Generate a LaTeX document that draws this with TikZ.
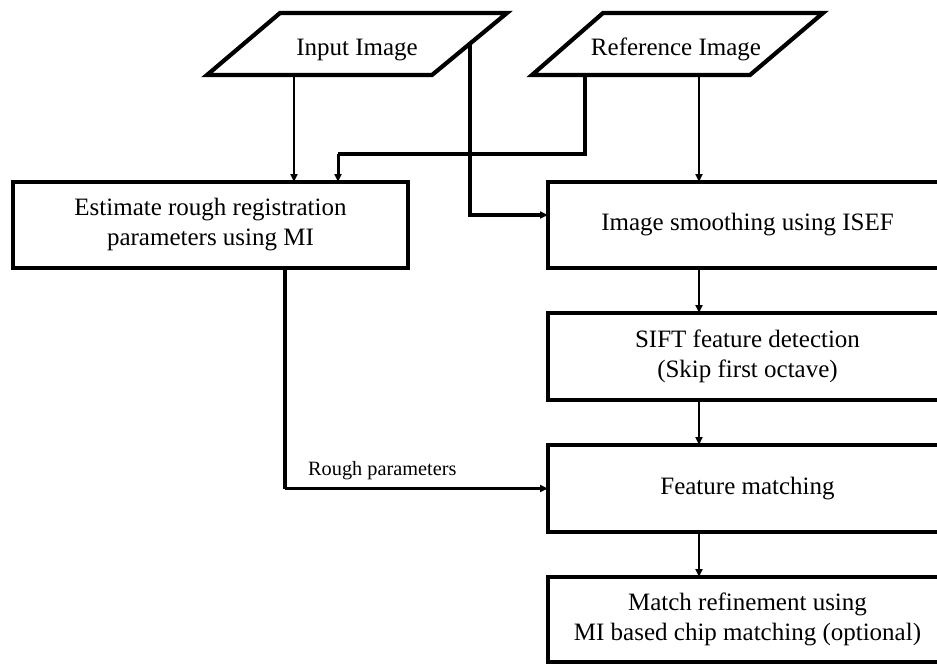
\documentclass[tikz,border=0pt]{standalone}
\usepackage{fontspec}
\setmainfont{Liberation Serif}
\usetikzlibrary{arrows.meta}
\begin{document}
\begin{tikzpicture}[x=1pt,y=-1pt,
  procbox/.style={draw,line width=4.2pt,rectangle,align=center,inner sep=0pt,outer sep=0pt,
    font=\fontsize{25}{30}\selectfont},
  iolabel/.style={font=\fontsize{25}{30}\selectfont,inner sep=0pt,anchor=base},
  iobox/.style={line width=4.2pt,line join=miter},
  flow/.style={line width=2.5pt,-{Triangle[length=8pt,width=7pt]}},
  heavyflow/.style={line width=3.8pt,-{Triangle[length=8pt,width=7pt]}},
  plainline/.style={line width=3.2pt}]
\useasboundingbox (0,0) rectangle (937,664);

% input parallelograms
\coordinate (inTL) at (280,13);  \coordinate (inTR) at (507,13);
\coordinate (inBR) at (432,75);  \coordinate (inBL) at (207,75);
\draw[iobox] (inTL) -- (inTR) -- (inBR) -- (inBL) -- cycle;
\node[iolabel] (input) at (357,55) {Input Image};

\coordinate (refTL) at (603,13); \coordinate (refTR) at (823,13);
\coordinate (refBR) at (750,75); \coordinate (refBL) at (532,75);
\draw[iobox] (refTL) -- (refTR) -- (refBR) -- (refBL) -- cycle;
\node[iolabel] (reference) at (676,55) {Reference Image};

% processing boxes
\node[procbox,minimum width=395pt,minimum height=86pt] (estimate) at (210.5,225)
  {Estimate rough registration\\parameters using MI};
\node[procbox,minimum width=399pt,minimum height=86pt] (smooth) at (747.5,225)
  {Image smoothing using ISEF};
\node[procbox,minimum width=399pt,minimum height=87pt] (sift) at (747.5,356.5)
  {SIFT feature detection\\(Skip first octave)};
\node[procbox,minimum width=399pt,minimum height=87pt] (fmatch) at (747.5,488.5)
  {Feature matching};
\node[procbox,minimum width=399pt,minimum height=85pt] (refine) at (747.5,619.5)
  {Match refinement using\\MI based chip matching (optional)};

% connector anchor points on the parallelograms
\coordinate (inOut) at (294,75);
\coordinate (inSide) at (470,42);
\coordinate (refOutL) at (585,75);
\coordinate (refOutR) at (699,75);
\coordinate (refBend) at (338,154);
\coordinate (estOut) at (285,268);

% connectors
\draw[flow] (inOut) -- (inOut |- estimate.north);
\draw[plainline] (refOutL) |- (refBend);
\draw[flow,line width=3pt] (refBend) -- (refBend |- estimate.north);
\draw[heavyflow] (inSide) |- ([yshift=10pt]smooth.west);
\draw[flow] (refOutR) -- (refOutR |- smooth.north);
\draw[flow] (refOutR |- smooth.south) -- (refOutR |- sift.north);
\draw[flow] (refOutR |- sift.south) -- (refOutR |- fmatch.north);
\draw[flow] (refOutR |- fmatch.south) -- (refOutR |- refine.north);
\draw[plainline] (estOut) -- (estOut |- fmatch.west);
\draw[flow] (estOut |- fmatch.west) -- (fmatch.west);
\node[font=\fontsize{20.3}{24}\selectfont,inner sep=0pt,anchor=base west] (roughlbl) at (308,475)
  {Rough parameters};
\end{tikzpicture}
\end{document}
